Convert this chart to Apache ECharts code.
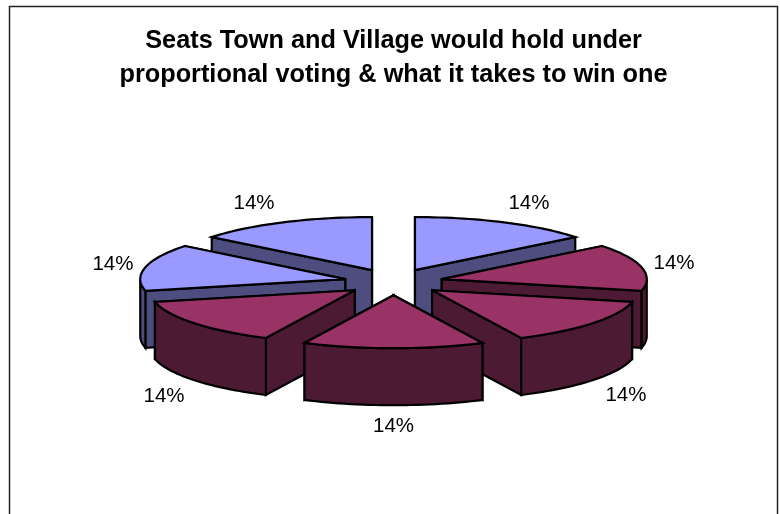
<!DOCTYPE html>
<html>
<head>
<meta charset="utf-8">
<style>html,body{margin:0;padding:0;background:#fff}#chart{width:780px;height:514px}</style>
<script src="https://cdn.jsdelivr.net/npm/echarts@6/dist/echarts.min.js"></script>
</head>
<body>
<div id="chart"></div>
<script>
// Seat shares, clockwise from twelve o'clock
const sliceValues = [14, 14, 14, 14, 14, 14, 14];
const sliceFaces = ['#9999FF', '#993366', '#993366', '#993366', '#993366', '#9999FF', '#9999FF'];
const sliceWalls = ['#4D4D80', '#4D1A33', '#4D1A33', '#4D1A33', '#4D1A33', '#4D4D80', '#4D4D80'];
const titleLines = ['Seats Town and Village would hold under', 'proportional voting & what it takes to win one'];

// Projection of the tilted, exploded pie
const CX = 393.5, CY = 282, RX = 205, RY = 53, EX = 49.5, EY = 13.2, DEPTH = 57;
// Label ring and per-slice fine adjustment
const LABEL_RX = 296, LABEL_RY = 88, LABEL_DROP = 56;
const labelNudge = [[7, 1], [-8, 1], [1, 3], [0, 0], [2, 4], [8, 2], [-11, 1]];

const total = sliceValues.reduce((a, b) => a + b, 0);
const starts = [];
sliceValues.reduce((acc, v, i) => { starts[i] = acc; return acc + v; }, 0);

const chart = echarts.init(document.getElementById('chart'), null, { renderer: 'canvas' });

function renderSlice(params, api) {
  const i = params.dataIndex;
  const value = api.value(0);
  const t0 = starts[i] / total * Math.PI * 2;
  const t1 = t0 + value / total * Math.PI * 2;
  const mid = (t0 + t1) / 2;
  const ax = CX + EX * Math.sin(mid);
  const ay = CY - EY * Math.cos(mid);
  const rim = t => [ax + RX * Math.sin(t), ay - RY * Math.cos(t)];
  const drop = p => [p[0], p[1] + DEPTH];
  const arc = (a, b) => {
    const n = Math.max(2, Math.ceil(Math.abs(b - a) / 0.03));
    const pts = [];
    for (let k = 0; k <= n; k++) pts.push(rim(a + (b - a) * k / n));
    return pts;
  };
  const stroke = { stroke: '#000', lineWidth: 2.2, lineJoin: 'miter', miterLimit: 4 };
  const base = Math.round((1 - Math.cos(mid)) * 100);
  const children = [];
  const poly = (points, fill, z) => children.push({
    type: 'polygon', z2: base + z,
    shape: { points },
    style: Object.assign({ fill }, stroke)
  });

  // Radial walls, the one further back first
  const apex = [ax, ay];
  const walls = [t0, t1].map(t => ({ t, y: rim(t)[1] })).sort((p, q) => p.y - q.y);
  walls.forEach((w, k) => {
    const r = rim(w.t);
    poly([apex, r, drop(r), drop(apex)], sliceWalls[i], k);
  });

  // Outer curved wall, only where it faces the viewer
  const lo = Math.max(t0, Math.PI / 2);
  const hi = Math.min(t1, Math.PI * 1.5);
  if (hi > lo) {
    const top = arc(lo, hi);
    poly(top.concat(top.slice().reverse().map(drop)), sliceWalls[i], 2);
  }

  // Top face
  poly([apex].concat(arc(t0, t1)), sliceFaces[i], 3);

  // Percentage label
  const lower = Math.cos(mid) < 0 ? LABEL_DROP * Math.min(1, -Math.cos(mid) * 1.6) : 0;
  children.push({
    type: 'text', z2: 900,
    style: {
      x: CX + LABEL_RX * Math.sin(mid) + labelNudge[i][0],
      y: CY - LABEL_RY * Math.cos(mid) + lower + labelNudge[i][1],
      text: value + '%',
      fill: '#000',
      font: '20.5px "Liberation Sans", Arial, sans-serif',
      align: 'center', verticalAlign: 'middle'
    }
  });
  return { type: 'group', children };
}

chart.setOption({
  animation: false,
  backgroundColor: '#fff',
  graphic: [{
    type: 'rect', z: 0, silent: true,
    shape: { x: 9.5, y: 6.5, width: 768, height: 520 },
    style: { fill: '#fff', stroke: '#222', lineWidth: 1.5 }
  }],
  title: {
    text: titleLines.join('\n'),
    left: 388.5, top: 19, textAlign: 'center', z: 5,
    textStyle: {
      fontFamily: '"Liberation Sans", Arial, sans-serif',
      fontWeight: 'bold', fontSize: 25.3, lineHeight: 34, color: '#000'
    }
  },
  series: [{
    type: 'custom',
    coordinateSystem: 'none',
    renderItem: renderSlice,
    data: sliceValues.map(v => [v]),
    silent: true, clip: false, z: 3
  }]
});
</script>
</body>
</html>
